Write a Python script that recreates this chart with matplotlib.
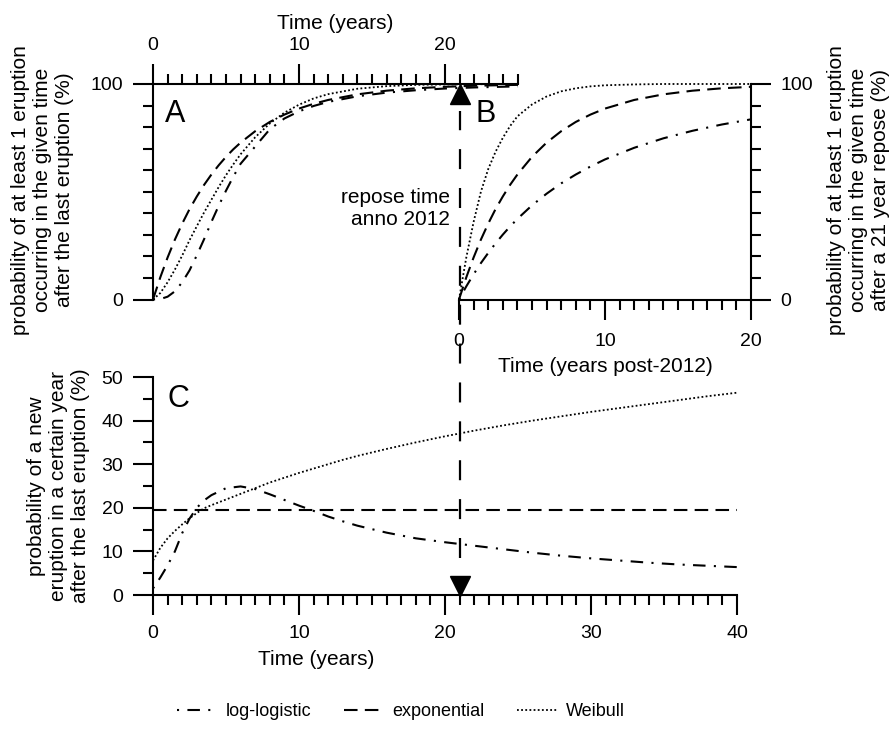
import matplotlib
matplotlib.use("Agg")
import matplotlib.pyplot as plt
from matplotlib.ticker import MultipleLocator, FixedLocator

plt.rcParams['font.family'] = ['Liberation Sans', 'DejaVu Sans']
plt.rcParams['font.size'] = 14

LABEL_SIZE = 15
TICK_SIZE = 14
LETTER_SIZE = 22
LEGEND_SIZE = 13

# ---------------------------------------------------------------- data
REPOSE_YEARS = 21

# A: cumulative probability (%) of at least one eruption since the last eruption
t_a = [0, 0.5, 1, 1.5, 2, 2.5, 3, 3.5, 4, 4.5, 5, 5.5, 6, 7, 8, 9, 10, 11, 12,
       14, 16, 18, 20, 22, 25]
a_loglogistic = [0, 0.2, 1.3, 3.8, 8.0, 13.5, 20.5, 28.0, 36.0, 43.5, 50.5, 57.0,
                 63.0, 71.0, 79.0, 84.0, 87.3, 89.8, 91.7, 94.3, 96.0, 97.1, 97.9,
                 98.4, 98.9]
a_exponential = [0, 10.3, 19.5, 27.8, 35.2, 41.9, 47.8, 53.2, 58.0, 62.3, 66.2, 69.7,
                 72.8, 78.1, 82.4, 85.8, 88.6, 90.8, 92.6, 95.2, 96.9, 98.0, 98.7,
                 99.2, 99.6]
a_weibull = [0, 3.0, 8.0, 13.9, 20.4, 27.5, 34.0, 40.4, 46.3, 52.2, 57.7, 62.7,
             67.4, 75.3, 81.7, 86.7, 90.4, 93.3, 95.3, 97.8, 99.0, 99.6, 99.8,
             99.9, 100.0]

# B: probability (%) of at least one eruption after a 21 year repose
t_b = [0, 0.5, 1, 1.5, 2, 2.5, 3, 3.5, 4, 5, 6, 7, 8, 9, 10, 12, 14, 16, 18, 20]
b_loglogistic = [0, 6.1, 11.7, 16.9, 21.6, 26.0, 30.1, 33.9, 37.4, 43.7, 49.1, 53.9,
                 58.0, 61.7, 65.0, 70.4, 74.8, 78.3, 81.2, 83.6]
b_exponential = [0, 10.3, 19.5, 27.8, 35.2, 41.9, 47.8, 53.2, 58.0, 66.2, 72.8, 78.1,
                 82.4, 85.8, 88.6, 92.6, 95.2, 96.9, 98.0, 98.7]
b_weibull = [0, 19.5, 36.0, 50.0, 60.5, 68.5, 75.0, 80.5, 85.0, 90.5, 94.2, 96.6,
             98.0, 98.9, 99.4, 99.8, 100.0, 100.0, 100.0, 100.0]

# C: probability (%) of an eruption within a given year
t_c = [0, 0.5, 1, 1.5, 2, 2.5, 3, 3.5, 4, 5, 6, 7, 8, 9, 10, 11, 12, 13, 14, 16,
       18, 20, 22, 24, 26, 28, 30, 32, 34, 36, 38, 40]
c_loglogistic = [1.5, 4.0, 6.8, 10.0, 14.2, 17.5, 20.0, 21.7, 22.9, 24.5, 24.9, 24.3,
                 23.1, 21.8, 20.5, 19.3, 18.0, 16.9, 15.9, 14.3, 13.0, 12.1, 11.3,
                 10.5, 9.7, 9.0, 8.4, 7.9, 7.4, 7.0, 6.7, 6.4]
c_exponential = [19.5] * len(t_c)
c_weibull = [7.9, 10.8, 13.0, 14.7, 16.2, 17.6, 18.8, 19.9, 20.6, 21.9, 23.2, 24.5,
             25.8, 26.9, 28.0, 29.0, 30.0, 31.0, 31.9, 33.5, 35.0, 36.4, 37.7, 38.9,
             40.0, 41.0, 42.0, 42.9, 43.8, 44.7, 45.6, 46.4]

model_names = ['log-logistic', 'exponential', 'Weibull']

# ---------------------------------------------------------------- styles
LW = 1.5
styles = {
    'log-logistic': dict(color='black', lw=LW, linestyle=(0, (1, 4, 6, 4))),
    'exponential': dict(color='black', lw=LW, linestyle=(0, (6.5, 3.5))),
    'Weibull': dict(color='black', lw=1.3, linestyle=(0, (1, 1.3))),
}

W, H = 893, 735
fig = plt.figure(figsize=(W / 100, H / 100), dpi=100)


def px_axes(x0, x1, ytop, ybot):
    ax = fig.add_axes([x0 / W, 1 - ybot / H, (x1 - x0) / W, (ybot - ytop) / H])
    ax.set_facecolor('none')
    for s in ax.spines.values():
        s.set_linewidth(1.5)
        s.set_visible(False)
    ax.tick_params(which='major', length=14.4, width=1.5, direction='out', pad=7,
                   labelsize=TICK_SIZE)
    ax.tick_params(which='minor', length=7.2, width=1.5, direction='out')
    return ax


axA = px_axes(153, 518, 84, 299.5)
axB = px_axes(459, 751, 84, 299.5)
axC = px_axes(153, 737, 377, 595)

# ---------------------------------------------------------------- panel A
for name, ys in zip(model_names, [a_loglogistic, a_exponential, a_weibull]):
    axA.plot(t_a, ys, clip_on=False, **styles[name])
axA.set_xlim(0, 25)
axA.set_ylim(0, 100)
axA.spines['top'].set_visible(True)
axA.spines['left'].set_visible(True)
axA.xaxis.tick_top()
axA.xaxis.set_major_locator(FixedLocator([0, 10, 20]))
axA.xaxis.set_minor_locator(MultipleLocator(1))
axA.yaxis.set_major_locator(FixedLocator([0, 100]))
axA.yaxis.set_minor_locator(MultipleLocator(10))
axA.set_xlabel('Time (years)', fontsize=LABEL_SIZE)
axA.xaxis.set_label_position('top')
axA.xaxis.set_label_coords(0.5, 1.255)
axA.text(0.033, 0.824, 'A', transform=axA.transAxes, fontsize=LETTER_SIZE)
axA.plot([REPOSE_YEARS], [95.4], marker='^', ms=15, color='black', clip_on=False)
axA.annotate('repose time\nanno 2012', xy=(REPOSE_YEARS, 42), xytext=(-7, 0),
             textcoords='offset points', ha='right', va='center',
             multialignment='right', fontsize=LABEL_SIZE)

# ---------------------------------------------------------------- panel B
for name, ys in zip(model_names, [b_loglogistic, b_exponential, b_weibull]):
    axB.plot(t_b, ys, clip_on=False, **styles[name])
axB.set_xlim(0, 20)
axB.set_ylim(0, 100)
axB.spines['bottom'].set_visible(True)
axB.spines['right'].set_visible(True)
axB.yaxis.tick_right()
axB.xaxis.set_major_locator(FixedLocator([0, 10, 20]))
axB.xaxis.set_minor_locator(MultipleLocator(1))
axB.yaxis.set_major_locator(FixedLocator([0, 100]))
axB.yaxis.set_minor_locator(MultipleLocator(10))
axB.tick_params(axis='x', which='major', pad=10)
axB.set_xlabel('Time (years post-2012)', fontsize=LABEL_SIZE)
axB.xaxis.set_label_coords(0.5, -0.265)
axB.text(0.055, 0.824, 'B', transform=axB.transAxes, fontsize=LETTER_SIZE)

# ---------------------------------------------------------------- panel C
handles = []
for name, ys in zip(model_names, [c_loglogistic, c_exponential, c_weibull]):
    line, = axC.plot(t_c, ys, label=name, clip_on=False, **styles[name])
    handles.append(line)
axC.set_xlim(0, 40)
axC.set_ylim(0, 50)
axC.spines['bottom'].set_visible(True)
axC.spines['left'].set_visible(True)
axC.xaxis.set_major_locator(MultipleLocator(10))
axC.xaxis.set_minor_locator(MultipleLocator(1))
axC.yaxis.set_major_locator(MultipleLocator(10))
axC.yaxis.set_minor_locator(MultipleLocator(5))
axC.set_xlabel('Time (years)', fontsize=LABEL_SIZE)
axC.xaxis.set_label_coords(0.28, -0.252)
axC.text(0.024, 0.862, 'C', transform=axC.transAxes, fontsize=LETTER_SIZE)
axC.plot([REPOSE_YEARS], [2.06], marker='v', ms=15, color='black', clip_on=False)

# repose-time marker running through all three panels
axC.plot([REPOSE_YEARS, REPOSE_YEARS], [8.5, 111], color='black', lw=1.6,
         linestyle=(0, (9, 8.5)), clip_on=False)

# ---------------------------------------------------------------- axis titles
fig.text(43 / W, 1 - 190 / H,
         'probability of at least 1 eruption\noccurring in the given time\n'
         'after the last eruption (%)',
         rotation=90, ha='center', va='center', multialignment='center',
         fontsize=LABEL_SIZE)
fig.text(858 / W, 1 - 190 / H,
         'probability of at least 1 eruption\noccurring in the given time\n'
         'after a 21 year repose (%)',
         rotation=90, ha='center', va='center', multialignment='center',
         fontsize=LABEL_SIZE)
fig.text(59 / W, 1 - 486 / H,
         'probability of a new\neruption in a certain year\n'
         'after the last eruption (%)',
         rotation=90, ha='center', va='center', multialignment='center',
         fontsize=LABEL_SIZE)

fig.legend(handles, model_names, loc='center', bbox_to_anchor=(401 / W, 1 - 712 / H),
           ncol=3, frameon=False, handlelength=2.2, handletextpad=0.5,
           columnspacing=1.8, fontsize=LEGEND_SIZE)

fig.savefig('out.png', dpi=100)
